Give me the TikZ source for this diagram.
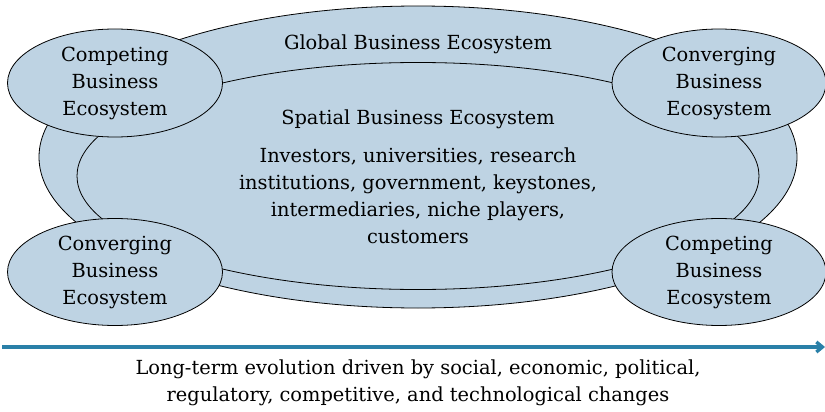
\documentclass[tikz,border=0pt]{standalone}
\usepackage{fontspec}
\setmainfont{DejaVu Serif}
\usetikzlibrary{arrows.meta,shapes.geometric}
\definecolor{eco}{RGB}{190,211,227}
\definecolor{drift}{RGB}{42,128,168}

\begin{document}
\begin{tikzpicture}[x=1pt, y=-1pt, every node/.style={font=\fontsize{19.4}{27}\selectfont},
  eco/.style={draw, ellipse, fill=eco, inner sep=0pt, align=center, line width=0.8pt},
  arr/.style={-{Straight Barb[length=6pt, width=10pt]}, draw=drift, line width=3.4pt}]
\useasboundingbox (0,0) rectangle (825,412);
% nested ecosystems
\node[eco, minimum width=758pt, minimum height=302pt] (global) at (418,157) {};
\node[eco, minimum width=682pt, minimum height=227pt] (spatial) at (418,176) {};
\node (globaltxt) at (418,44) {Global Business Ecosystem};
\node (spatialtxt) at (418,119) {Spatial Business Ecosystem};
\node[align=center] (actors) at (418,196) {Investors, universities, research\\institutions, government, keystones,\\intermediaries, niche players,\\customers};
% neighbouring ecosystems
\node[eco, minimum width=215pt, minimum height=108pt] (compA) at (115,83) {Competing\\Business\\Ecosystem};
\node[eco, minimum width=214pt, minimum height=108pt] (convA) at (719,83) {Converging\\Business\\Ecosystem};
\node[eco, minimum width=215pt, minimum height=107pt] (convB) at (115,272) {Converging\\Business\\Ecosystem};
\node[eco, minimum width=214pt, minimum height=107pt] (compB) at (719,272) {Competing\\Business\\Ecosystem};
% time axis
\coordinate (t0) at (2,347);
\coordinate (t1) at (825,347);
\draw[arr] (t0) -- (t1);
\node[align=center] (drivers) at (418,383) {Long-term evolution driven by social, economic, political,\\regulatory, competitive, and technological changes};
\end{tikzpicture}
\end{document}
